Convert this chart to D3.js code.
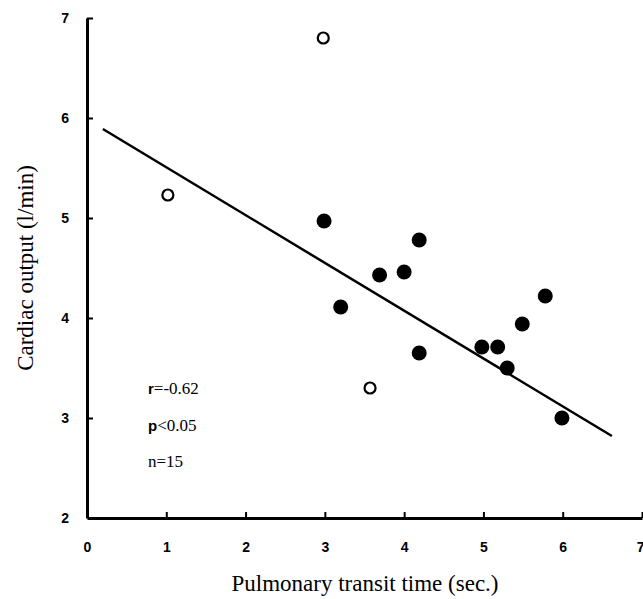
<!DOCTYPE html>
<html>
<head>
<meta charset="utf-8">
<script src="https://cdn.jsdelivr.net/npm/d3@7"></script>
<style>
  body { margin: 0; background: #fff; }
  .tick text { font-family: "Liberation Sans", Arial, sans-serif; font-weight: bold; font-size: 14px; }
</style>
</head>
<body>
<svg width="643" height="599"></svg>
<script>
// data
var filledX = [2.99, 3.20, 3.69, 4.00, 4.19, 4.19, 4.98, 5.18, 5.30, 5.49, 5.78, 5.99];
var filledY = [4.97, 4.11, 4.43, 4.46, 4.78, 3.65, 3.71, 3.71, 3.50, 3.94, 4.22, 3.00];
var openX = [2.98, 1.02, 3.57];
var openY = [6.80, 5.23, 3.30];
var lineX = [0.20, 6.62];
var lineY = [5.89, 2.82];
var xTicks = [0, 1, 2, 3, 4, 5, 6, 7];
var yTicks = [2, 3, 4, 5, 6, 7];
var statLead = ["r", "p", ""];
var statRest = ["=-0.62", "<0.05", "n=15"];

var svg = d3.select("svg");

var x = d3.scaleLinear().domain([0, 7]).range([87, 642]);
var y = d3.scaleLinear().domain([2, 7]).range([518, 18]);

// axes, ticks point inward
var gx = svg.append("g")
  .attr("transform", "translate(0," + y(2) + ")")
  .call(d3.axisBottom(x).tickValues(xTicks).tickSizeInner(-6).tickSizeOuter(0).tickPadding(24).tickFormat(d3.format("d")));
var gy = svg.append("g")
  .attr("transform", "translate(" + x(0) + ",0)")
  .call(d3.axisLeft(y).tickValues(yTicks).tickSizeInner(-6).tickSizeOuter(0).tickPadding(18).tickFormat(d3.format("d")));

svg.selectAll(".domain").attr("stroke", "#000").attr("stroke-width", 3);
svg.selectAll(".tick line").attr("stroke", "#000").attr("stroke-width", 2);
gy.select(".tick:first-of-type line").remove();
// last x label sits at the page edge
gx.select(".tick:last-of-type text").attr("text-anchor", "end").attr("x", 2);

// regression line
svg.append("line")
  .attr("x1", x(lineX[0])).attr("y1", y(lineY[0]))
  .attr("x2", x(lineX[1])).attr("y2", y(lineY[1]))
  .attr("stroke", "#000").attr("stroke-width", 2.5);

// points
svg.append("g").selectAll("circle")
  .data(d3.range(filledX.length))
  .enter().append("circle")
    .attr("cx", function(i) { return x(filledX[i]); })
    .attr("cy", function(i) { return y(filledY[i]); })
    .attr("r", 7.5)
    .attr("fill", "#000");

svg.append("g").selectAll("circle")
  .data(d3.range(openX.length))
  .enter().append("circle")
    .attr("cx", function(i) { return x(openX[i]); })
    .attr("cy", function(i) { return y(openY[i]); })
    .attr("r", 5.5)
    .attr("fill", "#fff")
    .attr("stroke", "#000")
    .attr("stroke-width", 2.2);

// stats text
var st = svg.append("g").selectAll("text")
  .data(d3.range(statRest.length))
  .enter().append("text")
    .attr("x", 148)
    .attr("y", function(i) { return 394 + i * 36.5; })
    .style("font-family", "'Liberation Serif', 'Times New Roman', serif")
    .style("font-size", "17px");
st.append("tspan")
  .style("font-family", "'Liberation Sans', Arial, sans-serif")
  .style("font-weight", "bold")
  .style("font-size", "15px")
  .text(function(i) { return statLead[i]; });
st.append("tspan")
  .text(function(i) { return statRest[i]; });

// axis titles
svg.append("text")
  .attr("x", 365).attr("y", 591)
  .attr("text-anchor", "middle")
  .style("font-family", "'Liberation Serif', 'Times New Roman', serif")
  .style("font-size", "23px")
  .text("Pulmonary transit time (sec.)");

svg.append("text")
  .attr("transform", "translate(33,268) rotate(-90)")
  .attr("text-anchor", "middle")
  .style("font-family", "'Liberation Serif', 'Times New Roman', serif")
  .style("font-size", "23px")
  .text("Cardiac output (l/min)");
</script>
</body>
</html>
